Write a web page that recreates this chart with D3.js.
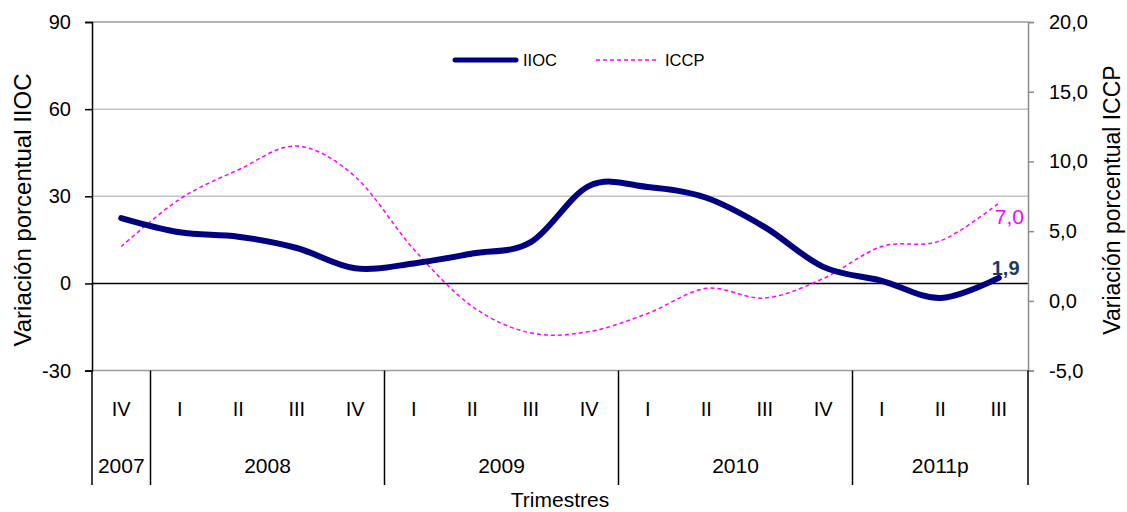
<!DOCTYPE html>
<html>
<head>
<meta charset="utf-8">
<script src="https://cdn.jsdelivr.net/npm/d3@7"></script>
<style>
  html, body { margin: 0; padding: 0; background: #fff; }
  svg { display: block; font-family: "Liberation Sans", Arial, sans-serif; }
</style>
</head>
<body>
<svg id="chart" width="1127" height="512"></svg>
<script>
// Quarters and their years
const quarters = ["IV", "I", "II", "III", "IV", "I", "II", "III", "IV", "I", "II", "III", "IV", "I", "II", "III"];
const years = ["2007", "2008", "2009", "2010", "2011p"];
const quartersPerYear = [1, 4, 4, 4, 3];

// Series (percentage variation)
const iioc = [22.5, 17.6, 16.1, 12.2, 5.2, 6.9, 10.3, 14.2, 33.6, 33.2, 29.5, 19.4, 5.7, 0.9, -5.0, 1.9];
const iccp = [3.9, 7.3, 9.4, 11.1, 8.9, 3.7, -0.4, -2.3, -2.2, -0.9, 0.9, 0.2, 1.6, 3.9, 4.3, 7.0];

// Axis ticks
const leftTicks = [-30, 0, 30, 60, 90];
const rightTicks = [-5, 0, 5, 10, 15, 20];

const FONT = "Liberation Sans, Arial, sans-serif";
const svg = d3.select("#chart");
const plotLeft = 92, plotRight = 1028, plotTop = 22, plotBottom = 370.6;

const idx = d3.range(quarters.length);
const x = d3.scaleBand().domain(idx).range([plotLeft, plotRight]).padding(0);
const cx = i => x(i) + x.bandwidth() / 2;
const yL = d3.scaleLinear().domain([-30, 90]).range([plotBottom, plotTop]);
const yR = d3.scaleLinear().domain([-5, 20]).range([plotBottom, plotTop]);

// Gridlines
svg.append("g").selectAll("line").data(leftTicks.filter(t => t !== 0)).join("line")
  .attr("x1", plotLeft).attr("x2", plotRight)
  .attr("y1", d => yL(d)).attr("y2", d => yL(d))
  .attr("stroke", d => (d === 90 || d === -30) ? "#9a9a9a" : "#c4c4c4")
  .attr("stroke-width", 1.5);

// Zero line
svg.append("line")
  .attr("x1", plotLeft).attr("x2", plotRight)
  .attr("y1", yL(0)).attr("y2", yL(0))
  .attr("stroke", "#000").attr("stroke-width", 1.5);

// Left axis (hyphen-minus for negatives)
const fmtL = v => String(v);
const axL = svg.append("g").attr("transform", `translate(${plotLeft},0)`)
  .call(d3.axisLeft(yL).tickValues(leftTicks).tickSize(7).tickPadding(14).tickFormat(fmtL));
axL.select(".domain").attr("stroke", "#000").attr("stroke-width", 1.5);
axL.selectAll(".tick line").attr("stroke", "#000").attr("stroke-width", 1.5);
axL.selectAll("text").attr("font-size", 20).attr("fill", "#000").attr("font-family", FONT);

// Right axis (comma decimals)
const fmtR = v => (v < 0 ? "-" : "") + Math.abs(v).toFixed(1).replace(".", ",");
const axR = svg.append("g").attr("transform", `translate(${plotRight},0)`)
  .call(d3.axisRight(yR).tickValues(rightTicks).tickSize(6).tickPadding(15).tickFormat(fmtR));
axR.select(".domain").attr("stroke", "#8c8c8c").attr("stroke-width", 1.5);
axR.selectAll(".tick line").attr("stroke", "#8c8c8c").attr("stroke-width", 1.5);
axR.selectAll("text").attr("font-size", 20).attr("fill", "#000").attr("font-family", FONT);

// Category axis: quarter labels, year labels and separators
const catG = svg.append("g");
catG.selectAll("text.q").data(idx).join("text")
  .attr("class", "q")
  .attr("x", i => cx(i)).attr("y", 416)
  .attr("text-anchor", "middle").attr("font-size", 20)
  .text(i => quarters[i]);

let start = 0;
const yearSpans = years.map((yr, k) => {
  const s = start; start += quartersPerYear[k];
  return { yr, s, e: start };
});
const edge = i => i < quarters.length ? x(i) : plotRight;
catG.selectAll("text.y").data(yearSpans).join("text")
  .attr("class", "y")
  .attr("x", d => (edge(d.s) + edge(d.e)) / 2).attr("y", 473)
  .attr("text-anchor", "middle").attr("font-size", 21)
  .text(d => d.yr);
const seps = [0].concat(yearSpans.map(d => d.e));
catG.selectAll("line").data(seps).join("line")
  .attr("x1", d => edge(d)).attr("x2", d => edge(d))
  .attr("y1", plotBottom).attr("y2", 485)
  .attr("stroke", "#000").attr("stroke-width", 1.5);

// Axis titles
svg.append("text").attr("x", 560).attr("y", 507).attr("text-anchor", "middle")
  .attr("font-size", 21).text("Trimestres");
svg.append("text").attr("transform", "translate(31,210) rotate(-90)")
  .attr("text-anchor", "middle").attr("font-size", 24).text("Variación porcentual IIOC");
svg.append("text").attr("transform", "translate(1120,200) rotate(-90)")
  .attr("text-anchor", "middle").attr("font-size", 23).text("Variación porcentual ICCP");

// Smoothed lines
const lineL = d3.line().x((d, i) => cx(i)).y(d => yL(d)).curve(d3.curveCardinal.tension(0));
const lineR = d3.line().x((d, i) => cx(i)).y(d => yR(d)).curve(d3.curveCardinal.tension(0));

svg.append("path").datum(iccp).attr("d", lineR)
  .attr("fill", "none").attr("stroke", "#ff00ff").attr("stroke-width", 1.5)
  .attr("stroke-dasharray", "4,3");
svg.append("path").datum(iioc).attr("d", lineL)
  .attr("fill", "none").attr("stroke", "#000080").attr("stroke-width", 6)
  .attr("stroke-linecap", "round").attr("stroke-linejoin", "round");

// End value labels
const last = quarters.length - 1;
svg.append("text").attr("x", cx(last) - 4).attr("y", yR(iccp[last]) + 21)
  .attr("font-size", 21).attr("fill", "#ff00ff").text(fmtR(iccp[last]));
svg.append("text").attr("x", cx(last) - 7).attr("y", yL(iioc[last]) - 3)
  .attr("font-size", 20).attr("font-weight", "bold").attr("fill", "#1f3864").text(fmtR(iioc[last]));

// Legend
const lg = svg.append("g");
lg.append("line").attr("x1", 455).attr("x2", 516).attr("y1", 60).attr("y2", 60)
  .attr("stroke", "#000080").attr("stroke-width", 5).attr("stroke-linecap", "round");
lg.append("text").attr("x", 523).attr("y", 66).attr("font-size", 16.5).text("IIOC");
lg.append("line").attr("x1", 596).attr("x2", 658).attr("y1", 60).attr("y2", 60)
  .attr("stroke", "#ff00ff").attr("stroke-width", 1.5).attr("stroke-dasharray", "4,3");
lg.append("text").attr("x", 665).attr("y", 66).attr("font-size", 16.5).text("ICCP");
</script>
</body>
</html>
